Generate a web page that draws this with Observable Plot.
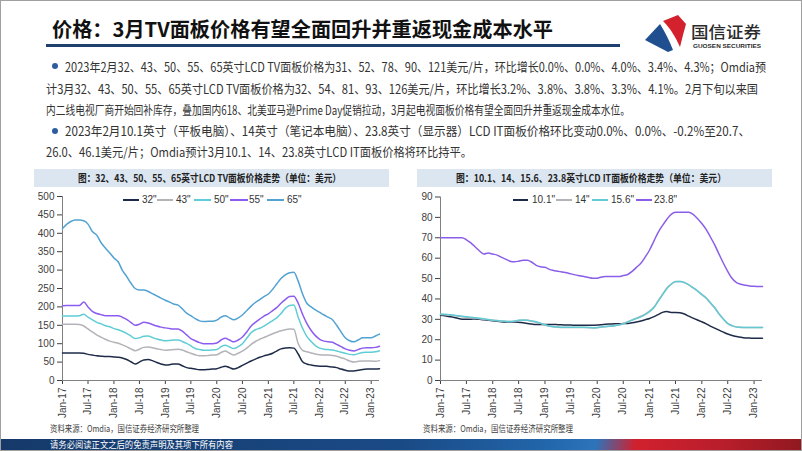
<!DOCTYPE html>
<html><head><meta charset="utf-8">
<script src="https://cdn.jsdelivr.net/npm/d3@7"></script>
<script src="https://cdn.jsdelivr.net/npm/@observablehq/plot@0.6"></script>
<style>
html,body{margin:0;padding:0;background:#fff;}
#slide{position:relative;width:802px;height:451px;overflow:hidden;font-family:"Noto Sans CJK SC","Noto Sans",sans-serif;box-sizing:border-box;border:1px solid #a0a0a0;background:#fff;}
.abs{position:absolute;white-space:nowrap;}
.chart{position:absolute;}
.leg{position:absolute;font-family:"Liberation Sans",Arial,sans-serif;font-size:10px;color:#333;line-height:12px;white-space:nowrap;}
</style></head>
<body>
<div id="slide"></div>
<script>
// ---------- data ----------
const startMonth = new Date(Date.UTC(2017, 0, 1));
const endMonth = new Date(Date.UTC(2023, 2, 1));
const tickLabels = ["Jan-17","Jul-17","Jan-18","Jul-18","Jan-19","Jul-19","Jan-20","Jul-20","Jan-21","Jul-21","Jan-22","Jul-22","Jan-23"];

const tvNames = ['32"', '43"', '50"', '55"', '65"'];
const tv32 = [75,75,75,75,75,74,71,69,67,66,65,65,64,63,61,57,51,45,50,56,57,54,49,45,42,43,45,45,40,35,33,31,29,29,30,31,32,36,39,35,31,35,41,47,53,58,63,67,70,74,80,86,88,89,88,72,51,45,42,40,39,39,38,37,35,31,28,26,26,28,30,31,31,31,32];
const tv43 = [153,153,153,153,152,148,140,132,124,118,112,107,104,101,97,92,86,81,85,90,91,89,86,84,82,83,84,85,83,78,74,70,67,67,68,69,70,76,80,74,69,74,80,88,98,106,112,117,122,127,131,135,138,140,139,100,82,78,75,72,70,69,69,68,66,62,58,53,50,52,53,53,53,52,54];
const tv50 = [175,175,175,175,176,180,172,165,158,154,149,146,141,138,134,128,121,114,116,120,121,117,113,110,108,109,110,110,106,101,94,87,84,82,82,83,84,92,96,91,87,92,100,115,130,138,142,148,155,163,170,182,196,204,205,172,142,120,106,95,88,85,84,83,80,77,74,71,70,73,76,77,77,78,81];
const tv55 = [203,204,204,204,204,213,200,188,182,179,176,176,176,176,172,166,158,150,153,158,156,152,148,145,143,141,140,140,134,124,114,108,103,100,100,100,102,110,115,110,105,110,118,132,148,158,167,175,181,190,198,210,220,228,229,210,180,155,136,122,112,107,105,104,98,92,86,82,80,84,88,89,89,90,93];
const tv65 = [413,425,432,436,436,434,425,405,395,375,360,347,333,322,300,283,265,250,246,246,242,236,230,224,218,213,208,205,195,183,176,168,162,160,161,161,164,172,176,170,165,170,178,190,202,212,220,228,235,248,262,277,287,293,294,270,235,210,200,192,185,178,172,165,150,132,116,108,105,110,116,116,116,121,126];

const itNames = ['10.1"', '14"', '15.6"', '23.8"'];
const it101 = [32,31.8,31.4,31,30.5,30.1,30,30.1,30.2,30,29.8,29.5,29.3,29,28.8,28.7,28.7,28.7,28.6,28.3,28,27.7,27.5,27.5,27.5,27.5,27.5,27.4,27.3,27.2,27.2,27.1,27.1,27.1,27.1,27.1,27.2,27.4,27.6,27.7,27.8,27.8,27.9,28,28.3,28.7,29.2,29.8,30.4,31.3,32.3,33.4,33.8,33.4,33.4,33.2,32.6,31.6,30.6,29.7,28.8,27.8,26.7,25.7,24.7,23.7,22.8,22.1,21.6,21.2,20.9,20.8,20.7,20.7,20.7];
const it14 = [32.4,32.3,32.1,31.9,31.6,31.3,31.1,30.8,30.6,30.3,30.0,29.8,29.5,29.3,29.1,29.0,28.9,29.1,29.4,29.6,29.5,29.1,28.6,28.0,27.2,26.6,26.3,26.1,26.0,26.0,26.0,26.0,26.0,26.0,25.9,25.8,25.9,26.2,26.4,26.6,26.9,27.3,27.9,28.8,29.7,30.6,31.5,32.6,34.1,36.0,39.0,42.2,45.2,47.3,48.4,48.5,48.0,46.9,45.4,43.9,42.1,40.3,38.0,35.6,32.6,30.0,27.9,26.8,26.2,26.0,26.0,26.0,26.0,26.0,26.0];
const it156 = [32.6,32.5,32.3,32.1,31.8,31.5,31.3,31,30.8,30.5,30.2,29.9,29.6,29.4,29.2,29,28.9,29.1,29.5,29.7,29.6,29.2,28.8,28.1,27.3,26.7,26.4,26.2,26.1,26.1,26.1,26.1,26.1,26.1,26,25.9,26,26.3,26.5,26.7,26.9,27.2,27.8,28.7,29.6,30.4,31.2,32.3,33.8,35.8,38.8,42,45,47.2,48.5,48.6,48.1,47,45.5,44,42.2,40.5,38.2,35.8,32.8,30.2,28,26.9,26.3,26.1,26,26,26,26,26];
const it238 = [70,70,70,70,70,70,69,67.5,65.5,63.5,62,62.5,62,61.5,60.5,59.5,58.5,58.2,58.5,59,59,58,56.5,55.8,55.5,54.5,54,53.6,53.2,52.8,52.3,51.8,51.4,51,50.5,50.1,50.2,50.8,51,51,51,51,51.5,52,53.5,55.5,57.5,60.5,64,68.5,72.5,76,79,81.5,82.5,82.5,82.5,82.5,81.5,79.5,77,74,70.5,66.5,62,57.5,53.5,50,48,47.2,46.7,46.4,46.2,46.1,46.1];

const tvColors = ["#1e2b48", "#b3b3b8", "#5fcdd6", "#8c5cf0", "#52a2d2"];
const itColors = ["#1e2b48", "#b3b3b8", "#62cad3", "#8a5ee8"];

// ---------- helpers ----------
const slide = document.getElementById("slide");
const months = d3.utcMonth.range(startMonth, d3.utcMonth.offset(endMonth, 1));
const tickDates = tickLabels.map(s => d3.utcParse("%b-%y")(s));

function text(str, o) {
  const d = document.createElement("div");
  d.className = "abs";
  d.textContent = str;
  d.style.fontSize = (o.size || 11) + "px";
  d.style.fontWeight = o.weight || 400;
  d.style.color = o.color || "#333";
  d.style.lineHeight = (o.lh || Math.round((o.size || 11) * 1.4)) + "px";
  if (o.font) d.style.fontFamily = o.font;
  slide.appendChild(d);
  const lh = parseFloat(d.style.lineHeight);
  d.style.top = (o.cy - lh / 2) + "px";
  const w = d.getBoundingClientRect().width;
  let left = o.x;
  if (o.w) {
    d.style.transformOrigin = "0 50%";
    d.style.transform = `scaleX(${o.w / w})`;
    if (o.cx != null) left = o.cx - o.w / 2;
  }
  d.style.left = left + "px";
  return d;
}
function box(x, y, w, h, bg) {
  const d = document.createElement("div");
  d.className = "abs";
  Object.assign(d.style, {left: x + "px", top: y + "px", width: w + "px", height: h + "px", background: bg});
  slide.appendChild(d);
  return d;
}

// ---------- header ----------
text("价格：3月TV面板价格有望全面回升并重返现金成本水平", {x: 51, cy: 28, w: 501, size: 20, weight: 700, color: "#111", lh: 26});
box(45, 43, 574, 2.5, "#1f3f6e");
// logo
const logo = document.createElementNS("http://www.w3.org/2000/svg", "svg");
logo.setAttribute("width", 60); logo.setAttribute("height", 42);
logo.style.position = "absolute"; logo.style.left = "640px"; logo.style.top = "11px";
logo.innerHTML = `<path d="M22,9 L37,3 L45,12 L42,23 L39,35 C35,26 30,17 22,9 Z" fill="#d3222e"/>
<path d="M4,28 L19,12 C24,20 28,28 32,38 L27,40 Z" fill="#1f4f8f"/>`;
slide.appendChild(logo);
text("国信证券", {x: 690, cy: 30, w: 70, size: 16, weight: 500, color: "#2b2b2b", lh: 20});
text("GUOSEN SECURITIES", {x: 692, cy: 44.5, w: 68, size: 6, weight: 700, color: "#2b2b2b", lh: 8, font: "'Liberation Sans',Arial,sans-serif"});

// ---------- bullets ----------
const bodyLines = [
  {t: "2023年2月32、43、50、55、65英寸LCD TV面板价格为31、52、78、90、121美元/片，环比增长0.0%、0.0%、4.0%、3.4%、4.3%；Omdia预", x: 64, end: 765, cy: 65, bullet: true},
  {t: "计3月32、43、50、55、65英寸LCD TV面板价格为32、54、81、93、126美元/片，环比增长3.2%、3.8%、3.8%、3.3%、4.1%。2月下旬以来国", x: 45, end: 757, cy: 87},
  {t: "内二线电视厂商开始回补库存，叠加国内618、北美亚马逊Prime Day促销拉动，3月起电视面板价格有望全面回升并重返现金成本水位。", x: 45, end: 629, cy: 108.5},
  {t: "2023年2月10.1英寸（平板电脑）、14英寸（笔记本电脑）、23.8英寸（显示器）LCD IT面板价格环比变动0.0%、0.0%、-0.2%至20.7、", x: 64, end: 749, cy: 129.5, bullet: true},
  {t: "26.0、46.1美元/片；Omdia预计3月10.1、14、23.8英寸LCD IT面板价格将环比持平。", x: 45, end: 471, cy: 150}
];
for (const l of bodyLines) {
  text(l.t, {x: l.x, cy: l.cy, w: l.end - l.x, size: 12.5, color: "#333", lh: 17});
  if (l.bullet) {
    const b = box(51, l.cy - 3, 6, 6, "#2e5d9e");
    b.style.borderRadius = "50%";
  }
}

// ---------- chart title bars ----------
box(33, 168, 355, 18, "#dce6f1");
box(416, 168, 355, 18, "#dce6f1");
text("图：32、43、50、55、65英寸LCD TV面板价格走势（单位：美元）", {cx: 208.5, cy: 177, w: 263, size: 10.5, weight: 700, color: "#222", lh: 14});
text("图：10.1、14、15.6、23.8英寸LCD IT面板价格走势（单位：美元）", {cx: 590, cy: 177, w: 270, size: 10.5, weight: 700, color: "#222", lh: 14});

// ---------- charts ----------
function makeChart(names, series, colors, yMax, yStep, opts) {
  const rows = series.flatMap((vals, k) => vals.map((v, i) => ({date: months[i], v, key: names[k]})));
  const p = Plot.plot({
    width: opts.width, height: 235,
    marginLeft: opts.ml, marginRight: opts.mr, marginTop: opts.mt, marginBottom: 46,
    style: {fontFamily: "'Liberation Sans', Arial, sans-serif", fontSize: "10px", color: "#404040", background: "transparent", overflow: "visible"},
    x: {type: "utc", domain: [months[0], months[months.length - 1]], ticks: tickDates, tickFormat: d3.utcFormat("%b-%y"), tickRotate: -90, tickSize: 4, tickPadding: 3, label: null},
    y: {domain: [0, yMax], ticks: d3.range(0, yMax + 0.001, yStep), tickSize: 5, tickPadding: 3, label: null},
    color: {domain: names, range: colors},
    marks: [
      Plot.ruleX([months[0]], {stroke: "#808080"}),
      Plot.ruleY([0], {stroke: "#808080"}),
      Plot.line(rows, {x: "date", y: "v", z: "key", stroke: "key", strokeWidth: 1.5, curve: "monotone-x"})
    ]
  });
  p.classList.add("chart");
  p.style.left = opts.left + "px";
  p.style.top = "190px";
  slide.appendChild(p);
}
makeChart(tvNames, [tv32, tv43, tv50, tv55, tv65], tvColors, 500, 50, {width: 370, left: 20, ml: 41, mr: 12, mt: 5});
makeChart(itNames, [it101, it14, it156, it238], itColors, 90, 10, {width: 375, left: 400, ml: 39, mr: 14, mt: 5.5});

// ---------- legends ----------
function legend(names, colors, lines, texts, cy) {
  names.forEach((n, i) => {
    box(lines[i][0], cy - 1, lines[i][1] - lines[i][0], 2, colors[i]);
    const t = document.createElement("div");
    t.className = "leg"; t.textContent = n;
    t.style.left = texts[i] + "px"; t.style.top = (cy - 6) + "px";
    slide.appendChild(t);
  });
}
legend(tvNames, tvColors, [[122,138],[156,172],[193,210],[229,247],[266,283]], [141,175,213,248,286], 199);
legend(itNames, itColors, [[512,527],[555,571],[591,607],[635,651]], [531,574,610,653], 199);

// ---------- sources & footer ----------
text("资料来源：Omdia，国信证券经济研究所整理", {x: 49, cy: 428, w: 149, size: 9, color: "#404040", lh: 12});
text("资料来源：Omdia，国信证券经济研究所整理", {x: 422, cy: 428, w: 150, size: 9, color: "#404040", lh: 12});
box(0, 437.5, 802, 14, "linear-gradient(100deg,#15396a 0%,#1a4a86 50%,#2266ab 68%,#2d74bb 74%,#d1202e 79%,#b81e2b 90%,#8f1820 100%)");
text("请务必阅读正文之后的免责声明及其项下所有内容", {x: 49, cy: 444, w: 183, size: 9, color: "#ffffff", lh: 12});
</script>
</body></html>
